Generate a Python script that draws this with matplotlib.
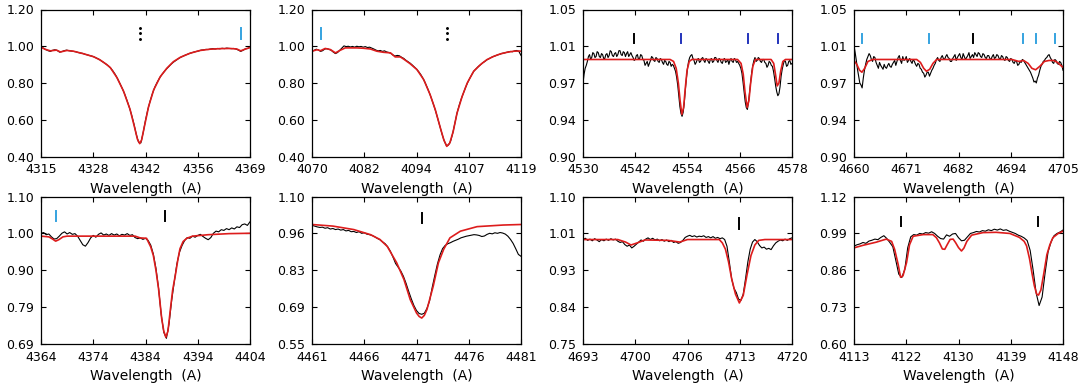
import matplotlib
matplotlib.use("Agg")
import matplotlib.pyplot as plt
import numpy as np

# ---- panel 1 : H gamma ----
p1_xlim = (4315, 4369)
p1_ylim = (0.40, 1.20)
p1_xticklabels = ["4315", "4328", "4342", "4356", "4369"]
p1_yticklabels = ["0.40", "0.60", "0.80", "1.00", "1.20"]
p1_obs_step = 0.6
p1_obs = [
    0.996, 0.990, 0.982, 0.976, 0.972, 0.978, 0.981, 0.977, 0.968, 0.971,
    0.976, 0.979, 0.976, 0.974, 0.972, 0.970, 0.966, 0.963, 0.961, 0.956,
    0.953, 0.949, 0.946, 0.941, 0.935, 0.929, 0.920, 0.912, 0.903, 0.893,
    0.881, 0.865, 0.846, 0.823, 0.797, 0.770, 0.741, 0.706, 0.669, 0.627,
    0.578, 0.522, 0.478, 0.474, 0.530, 0.597, 0.655, 0.702, 0.743, 0.777,
    0.803, 0.826, 0.845, 0.861, 0.876, 0.889, 0.902, 0.913, 0.922, 0.931,
    0.939, 0.945, 0.951, 0.956, 0.961, 0.965, 0.969, 0.972, 0.975, 0.979,
    0.980, 0.983, 0.982, 0.985, 0.987, 0.985, 0.988, 0.986, 0.989, 0.987,
    0.990, 0.988, 0.987, 0.988, 0.985, 0.979, 0.972, 0.978, 0.986, 0.988,
    0.995,
]
p1_model_wave = [
    4315.0, 4316.0, 4317.4, 4319.0, 4320.0, 4321.7, 4323.4, 4326.0, 4328.6, 4330.3,
    4332.0, 4332.9, 4334.6, 4336.3, 4338.0, 4339.3, 4339.9, 4340.5, 4341.0, 4341.7,
    4342.8, 4344.1, 4345.8, 4347.5, 4349.2, 4351.0, 4353.5, 4356.1, 4358.7, 4361.3,
    4363.8, 4365.6, 4366.6, 4367.7, 4369.0,
]
p1_model = [
    0.995, 0.984, 0.975, 0.979, 0.969, 0.977, 0.973, 0.959, 0.943, 0.925,
    0.900, 0.884, 0.830, 0.757, 0.657, 0.548, 0.495, 0.470, 0.490, 0.562,
    0.672, 0.762, 0.834, 0.880, 0.916, 0.940, 0.962, 0.977, 0.984, 0.987,
    0.988, 0.985, 0.975, 0.984, 0.993,
]
p1_marks = [4340.5, 4366.7]
p1_mark_kinds = ["dot", "light"]
p1_mark_y = (1.04, 1.10)

# ---- panel 2 : H delta ----
p2_xlim = (4070, 4119)
p2_ylim = (0.40, 1.20)
p2_xticklabels = ["4070", "4082", "4094", "4107", "4119"]
p2_yticklabels = ["0.40", "0.60", "0.80", "1.00", "1.20"]
p2_obs_step = 0.5
p2_obs = [
    0.972, 0.978, 0.984, 0.980, 0.972, 0.976, 0.985, 0.987, 0.983, 0.978,
    0.968, 0.960, 0.966, 0.978, 0.990, 1.002, 0.998, 1.000, 0.996, 0.999,
    0.995, 1.000, 0.997, 0.999, 0.995, 0.998, 0.993, 0.995, 0.990, 0.985,
    0.979, 0.975, 0.977, 0.972, 0.975, 0.969, 0.966, 0.961, 0.952, 0.947,
    0.950, 0.948, 0.940, 0.934, 0.924, 0.916, 0.908, 0.898, 0.887, 0.876,
    0.862, 0.846, 0.826, 0.803, 0.776, 0.748, 0.716, 0.682, 0.646, 0.605,
    0.563, 0.521, 0.485, 0.460, 0.462, 0.484, 0.527, 0.581, 0.636, 0.678,
    0.714, 0.745, 0.776, 0.803, 0.826, 0.847, 0.866, 0.878, 0.890, 0.899,
    0.910, 0.917, 0.926, 0.932, 0.939, 0.944, 0.948, 0.953, 0.956, 0.961,
    0.963, 0.966, 0.969, 0.972, 0.970, 0.975, 0.977, 0.972, 0.950,
]
p2_model_wave = [
    4070.0, 4071.2, 4072.0, 4073.1, 4074.3, 4075.5, 4076.6, 4077.8, 4079.0, 4080.5,
    4082.1, 4083.7, 4085.2, 4086.8, 4088.4, 4089.5, 4090.7, 4091.5, 4093.0, 4094.6,
    4096.2, 4097.7, 4098.9, 4100.1, 4100.9, 4101.6, 4102.3, 4103.1, 4104.0, 4105.2,
    4106.4, 4107.9, 4109.5, 4111.0, 4112.6, 4114.1, 4115.7, 4117.3, 4118.5, 4119.0,
]
p2_model = [
    0.973, 0.981, 0.976, 0.988, 0.982, 0.964, 0.978, 0.991, 0.991, 0.991,
    0.989, 0.985, 0.973, 0.967, 0.964, 0.942, 0.942, 0.930, 0.905, 0.873,
    0.818, 0.736, 0.655, 0.555, 0.491, 0.455, 0.473, 0.536, 0.636, 0.727,
    0.800, 0.864, 0.900, 0.927, 0.945, 0.958, 0.967, 0.973, 0.974, 0.973,
]
p2_marks = [4072.1, 4101.6]
p2_mark_kinds = ["light", "dot"]
p2_mark_y = (1.04, 1.10)

# ---- panel 3 : Si III ----
p3_xlim = (4530, 4578)
p3_ylim = (0.90, 1.05)
p3_xticklabels = ["4530", "4542", "4554", "4566", "4578"]
p3_yticklabels = ["0.90", "0.94", "0.97", "1.01", "1.05"]
p3_obs_step = 0.25
p3_obs = [
    0.975, 0.984, 0.990, 0.993, 0.997, 1.002, 1.004, 0.999, 1.001, 1.006,
    1.005, 1.001, 1.002, 1.007, 1.006, 1.002, 1.001, 1.005, 1.004, 1.000,
    1.000, 1.004, 1.005, 1.001, 1.003, 1.008, 1.007, 1.003, 1.002, 1.005,
    1.006, 1.002, 1.004, 1.008, 1.008, 1.004, 1.003, 1.007, 1.006, 1.002,
    1.005, 1.007, 1.002, 1.004, 1.006, 1.003, 1.001, 0.998, 0.999, 1.003,
    1.004, 0.999, 1.000, 1.004, 1.003, 0.999, 0.998, 0.993, 0.995, 0.997,
    0.992, 0.995, 0.998, 1.002, 1.001, 0.998, 0.997, 1.001, 1.000, 0.997,
    0.996, 1.000, 0.999, 0.996, 0.994, 0.998, 0.997, 0.994, 0.993, 0.997,
    0.996, 0.992, 0.994, 0.993, 0.990, 0.987, 0.981, 0.973, 0.962, 0.951,
    0.944, 0.941, 0.945, 0.954, 0.968, 0.980, 0.990, 0.997, 1.001, 1.003,
    1.004, 1.000, 0.998, 0.994, 0.996, 0.999, 1.000, 0.996, 0.997, 1.000,
    1.001, 0.998, 0.996, 1.000, 0.999, 0.997, 0.995, 0.999, 1.000, 0.996,
    0.997, 1.001, 1.001, 0.998, 0.996, 1.000, 0.999, 0.996, 0.995, 0.999,
    1.000, 0.996, 0.997, 0.999, 0.994, 0.998, 1.000, 0.997, 0.996, 1.000,
    0.999, 0.996, 0.997, 0.995, 0.993, 0.990, 0.985, 0.976, 0.966, 0.956,
    0.950, 0.948, 0.955, 0.965, 0.976, 0.986, 0.993, 0.998, 1.001, 0.997,
    0.998, 1.001, 1.000, 0.997, 0.996, 0.999, 0.999, 0.996, 0.995, 0.991,
    0.993, 0.997, 0.996, 0.993, 0.992, 0.987, 0.980, 0.972, 0.966, 0.962,
    0.964, 0.971, 0.982, 0.989, 0.994, 0.998, 0.997, 0.992, 0.993, 0.997,
    0.998, 0.994, 0.995,
]
p3_model_wave = [
    4530.0, 4550.0, 4550.8, 4551.4, 4551.9, 4552.3, 4552.7, 4553.1, 4553.5, 4553.9,
    4554.4, 4555.0, 4565.5, 4566.3, 4566.8, 4567.2, 4567.7, 4568.1, 4568.5, 4569.0,
    4569.6, 4573.2, 4573.8, 4574.2, 4574.6, 4575.0, 4575.4, 4575.9, 4576.5, 4578.0,
]
p3_model = [
    0.999, 0.999, 0.997, 0.990, 0.975, 0.957, 0.943, 0.950, 0.970, 0.988,
    0.997, 0.999, 0.999, 0.995, 0.984, 0.966, 0.950, 0.957, 0.975, 0.992,
    0.999, 0.999, 0.995, 0.984, 0.972, 0.975, 0.987, 0.997, 0.999, 0.999,
]
p3_marks = [4541.6, 4552.6, 4567.9, 4574.8]
p3_mark_kinds = ["black", "dark", "dark", "dark"]
p3_mark_y = (1.016, 1.025)

# ---- panel 4 : He II 4686 region ----
p4_xlim = (4660, 4705)
p4_ylim = (0.90, 1.05)
p4_xticklabels = ["4660", "4671", "4682", "4694", "4705"]
p4_yticklabels = ["0.90", "0.94", "0.97", "1.01", "1.05"]
p4_obs_step = 0.25
p4_obs = [
    1.013, 1.006, 0.998, 0.989, 0.982, 0.975, 0.973, 0.970, 0.980, 0.988,
    0.994, 0.999, 1.002, 1.005, 1.003, 0.999, 0.997, 1.002, 1.001, 0.996,
    0.993, 0.990, 0.996, 0.993, 0.991, 0.989, 0.994, 0.991, 0.990, 0.993,
    0.995, 0.992, 0.991, 0.994, 0.996, 0.998, 0.993, 0.997, 1.001, 1.003,
    0.998, 0.995, 1.002, 0.998, 0.999, 1.002, 0.996, 0.998, 1.000, 0.997,
    0.995, 0.999, 0.997, 0.994, 0.992, 0.995, 0.994, 0.990, 0.989, 0.986,
    0.985, 0.981, 0.983, 0.986, 0.986, 0.982, 0.985, 0.988, 0.990, 0.993,
    0.995, 0.999, 1.001, 0.998, 0.997, 1.001, 1.003, 1.000, 0.999, 1.002,
    1.004, 1.001, 1.000, 0.997, 0.997, 1.000, 1.002, 1.004, 0.998, 1.001,
    1.003, 1.005, 1.001, 0.999, 1.005, 1.002, 0.999, 1.001, 1.003, 1.006,
    1.000, 1.002, 1.004, 1.001, 1.006, 1.004, 1.002, 1.006, 1.005, 1.002,
    1.001, 1.005, 1.004, 1.001, 1.000, 1.003, 1.003, 1.000, 0.999, 1.002,
    1.004, 1.000, 1.001, 1.004, 1.003, 1.000, 0.999, 1.003, 1.002, 0.999,
    0.998, 1.002, 1.001, 0.998, 0.997, 1.000, 0.999, 0.996, 0.995, 0.998,
    0.997, 0.993, 0.994, 0.997, 0.996, 0.999, 0.998, 0.996, 0.994, 0.992,
    0.990, 0.988, 0.986, 0.983, 0.980, 0.976, 0.977, 0.975, 0.980, 0.983,
    0.988, 0.992, 0.994, 0.997, 0.998, 1.000, 1.001, 1.003, 1.004, 1.001,
    0.999, 0.996, 0.995, 0.999, 0.998, 0.995, 0.994, 0.997, 0.996, 0.993,
    0.988,
]
p4_model_wave = [
    4660.0, 4660.6, 4661.2, 4661.7, 4662.3, 4663.0, 4664.0, 4673.5, 4674.3, 4675.0,
    4675.6, 4676.3, 4677.0, 4677.8, 4694.0, 4695.5, 4696.5, 4697.5, 4698.3, 4699.1,
    4700.0, 4701.0, 4702.0, 4703.0, 4703.8, 4704.5, 4705.0,
]
p4_model = [
    0.998, 0.994, 0.988, 0.986, 0.990, 0.997, 0.999, 0.999, 0.996, 0.990,
    0.987, 0.989, 0.995, 0.999, 0.999, 0.997, 0.998, 0.995, 0.990, 0.9885,
    0.992, 0.997, 0.998, 0.998, 0.996, 0.993, 0.991,
]
p4_marks = [4661.7, 4676.2, 4685.6, 4696.3, 4699.1, 4703.2]
p4_mark_kinds = ["light", "light", "black", "light", "light", "light"]
p4_mark_y = (1.016, 1.025)

# ---- panel 5 : He I 4388 ----
p5_xlim = (4364, 4404)
p5_ylim = (0.69, 1.10)
p5_xticklabels = ["4364", "4374", "4384", "4394", "4404"]
p5_yticklabels = ["0.69", "0.79", "0.90", "1.00", "1.10"]
p5_obs_step = 0.5
p5_obs = [
    0.998, 1.000, 0.994, 0.996, 0.988, 0.982, 0.983, 0.990, 0.998, 1.002,
    0.996, 1.000, 0.995, 0.997, 0.990, 0.978, 0.966, 0.962, 0.972, 0.985,
    0.992, 0.987, 0.995, 0.999, 0.993, 0.996, 0.992, 0.997, 0.993, 0.996,
    0.991, 0.995, 0.993, 0.997, 0.992, 0.994, 0.986, 0.983, 0.985, 0.981,
    0.984, 0.978, 0.965, 0.940, 0.900, 0.845, 0.772, 0.722, 0.705, 0.745,
    0.810, 0.862, 0.912, 0.945, 0.964, 0.978, 0.986, 0.984, 0.990, 0.987,
    0.992, 0.995, 0.989, 0.984, 0.980, 0.986, 0.998, 1.004, 1.002, 1.008,
    1.006, 1.011, 1.008, 1.013, 1.010, 1.016, 1.014, 1.022, 1.024, 1.020,
    1.030,
]
p5_model_wave = [
    4364.0, 4365.5, 4366.2, 4366.8, 4367.4, 4368.2, 4369.0, 4382.0, 4383.0, 4384.2,
    4385.0, 4385.5, 4386.0, 4386.5, 4387.1, 4387.5, 4387.9, 4388.3, 4388.7, 4389.2,
    4389.7, 4390.2, 4390.6, 4391.2, 4391.9, 4393.0, 4396.0, 4400.0, 4404.0,
]
p5_model = [
    0.990, 0.988, 0.982, 0.976, 0.980, 0.988, 0.990, 0.990, 0.985, 0.984,
    0.960, 0.936, 0.895, 0.843, 0.760, 0.725, 0.708, 0.725, 0.778, 0.840,
    0.880, 0.925, 0.955, 0.975, 0.984, 0.990, 0.994, 0.997, 0.998,
]
p5_marks = [4366.9, 4387.8]
p5_mark_kinds = ["light", "black"]
p5_mark_y = (1.032, 1.060)

# ---- panel 6 : He I 4471 ----
p6_xlim = (4461, 4481)
p6_ylim = (0.55, 1.10)
p6_xticklabels = ["4461", "4466", "4471", "4476", "4481"]
p6_yticklabels = ["0.55", "0.69", "0.83", "0.96", "1.10"]
p6_obs_step = 0.25
p6_obs = [
    0.993, 0.990, 0.987, 0.985, 0.986, 0.982, 0.984, 0.979, 0.981, 0.977,
    0.979, 0.975, 0.977, 0.972, 0.974, 0.969, 0.970, 0.966, 0.969, 0.963,
    0.965, 0.960, 0.958, 0.955, 0.950, 0.944, 0.939, 0.931, 0.924, 0.912,
    0.896, 0.874, 0.850, 0.836, 0.822, 0.802, 0.776, 0.746, 0.718, 0.693,
    0.674, 0.663, 0.660, 0.664, 0.682, 0.710, 0.760, 0.805, 0.848, 0.882,
    0.906, 0.918, 0.924, 0.928, 0.933, 0.937, 0.941, 0.946, 0.949, 0.952,
    0.954, 0.956, 0.958, 0.957, 0.955, 0.951, 0.953, 0.959, 0.963, 0.961,
    0.965, 0.963, 0.966, 0.964, 0.960, 0.952, 0.940, 0.925, 0.905, 0.884,
    0.877,
]
p6_model_wave = [
    4461.0, 4463.0, 4465.0, 4466.6, 4467.5, 4468.2, 4469.1, 4469.8, 4470.4, 4471.0,
    4471.25, 4471.5, 4471.75, 4472.0, 4472.6, 4473.1, 4473.6, 4474.2, 4475.2, 4476.8,
    4479.3, 4481.0,
]
p6_model = [
    0.996, 0.990, 0.977, 0.958, 0.940, 0.914, 0.853, 0.790, 0.715, 0.665,
    0.652, 0.646, 0.656, 0.678, 0.765, 0.853, 0.903, 0.946, 0.971, 0.988,
    0.994, 0.996,
]
p6_marks = [4471.5]
p6_mark_kinds = ["black"]
p6_mark_y = (1.00, 1.04)

# ---- panel 7 : He I 4713 ----
p7_xlim = (4693, 4720)
p7_ylim = (0.75, 1.10)
p7_xticklabels = ["4693", "4700", "4706", "4713", "4720"]
p7_yticklabels = ["0.75", "0.84", "0.93", "1.01", "1.10"]
p7_obs_step = 0.3
p7_obs = [
    0.998, 1.001, 0.996, 0.999, 0.995, 1.000, 0.997, 0.993, 0.998, 0.995,
    0.999, 0.996, 1.000, 0.997, 0.999, 0.994, 0.991, 0.993, 0.986, 0.982,
    0.985, 0.978, 0.982, 0.987, 0.992, 0.997, 0.994, 0.999, 1.002, 0.998,
    1.001, 0.997, 0.999, 0.995, 0.998, 0.994, 0.997, 0.993, 0.996, 0.991,
    0.993, 0.989, 0.991, 0.996, 1.003, 1.006, 1.008, 1.005, 1.007, 1.004,
    1.006, 1.005, 1.007, 1.003, 1.005, 1.002, 1.005, 1.001, 1.003, 1.000,
    1.002, 0.998, 0.982, 0.945, 0.905, 0.882, 0.872, 0.856, 0.853, 0.868,
    0.905, 0.945, 0.975, 0.992, 0.998, 0.993, 0.984, 0.978, 0.980, 0.975,
    0.977, 0.974, 0.983, 0.990, 0.994, 0.997, 0.995, 0.999, 0.996, 1.000,
    1.002,
]
p7_model_wave = [
    4693.0, 4697.5, 4698.5, 4699.2, 4700.0, 4701.0, 4704.0, 4705.5, 4706.5, 4710.6,
    4711.0, 4711.4, 4711.8, 4712.2, 4712.7, 4713.2, 4713.7, 4714.2, 4714.7, 4715.2,
    4715.7, 4716.5, 4720.0,
]
p7_model = [
    0.998, 0.998, 0.992, 0.985, 0.990, 0.997, 0.996, 0.992, 0.998, 0.998,
    0.990, 0.975, 0.945, 0.905, 0.868, 0.847, 0.865, 0.915, 0.960, 0.985,
    0.996, 0.998, 0.998,
]
p7_marks = [4713.2]
p7_mark_kinds = ["black"]
p7_mark_y = (1.024, 1.050)

# ---- panel 8 : Si II / He I 4121, 4144 ----
p8_xlim = (4113, 4148)
p8_ylim = (0.60, 1.12)
p8_xticklabels = ["4113", "4122", "4130", "4139", "4148"]
p8_yticklabels = ["0.60", "0.73", "0.86", "0.99", "1.12"]
p8_obs_step = 0.5
p8_obs = [
    0.945, 0.950, 0.953, 0.958, 0.955, 0.963, 0.966, 0.970, 0.968, 0.976,
    0.982, 0.972, 0.958, 0.943, 0.895, 0.846, 0.834, 0.862, 0.940, 0.978,
    0.986, 0.984, 0.990, 0.988, 0.993, 0.991, 0.996, 0.990, 0.980, 0.972,
    0.970, 0.985, 0.980, 0.988, 0.990, 0.975, 0.964, 0.966, 0.978, 0.990,
    0.993, 0.997, 0.995, 1.000, 0.998, 1.003, 1.000, 1.005, 1.002, 1.006,
    1.001, 1.003, 0.998, 0.994, 0.990, 0.984, 0.980, 0.974, 0.965, 0.930,
    0.860, 0.780, 0.735, 0.765, 0.850, 0.925, 0.960, 0.982, 0.990, 0.995,
    1.002,
]
p8_model_wave = [
    4113.0, 4114.5, 4116.7, 4118.4, 4119.3, 4119.8, 4120.4, 4120.8, 4121.2, 4121.8,
    4122.3, 4122.9, 4124.6, 4126.2, 4126.8, 4127.3, 4127.8, 4128.2, 4128.6, 4129.1,
    4129.6, 4130.0, 4130.5, 4131.0, 4131.4, 4131.9, 4132.7, 4134.6, 4136.8, 4139.1,
    4140.7, 4141.5, 4141.9, 4142.4, 4142.8, 4143.2, 4143.6, 4143.9, 4144.3, 4144.8,
    4145.3, 4145.8, 4146.3, 4147.2, 4148.0,
]
p8_model = [
    0.939, 0.948, 0.959, 0.970, 0.962, 0.934, 0.880, 0.835, 0.840, 0.887,
    0.950, 0.980, 0.986, 0.986, 0.975, 0.957, 0.935, 0.934, 0.950, 0.969,
    0.970, 0.958, 0.940, 0.928, 0.938, 0.962, 0.984, 0.993, 0.994, 0.990,
    0.976, 0.962, 0.946, 0.900, 0.850, 0.805, 0.775, 0.772, 0.790, 0.850,
    0.915, 0.950, 0.975, 0.990, 0.998,
]
p8_marks = [4120.8, 4143.8]
p8_mark_kinds = ["black", "black"]
p8_mark_y = (1.016, 1.049)

panels = [
    (p1_xlim, p1_ylim, p1_xticklabels, p1_yticklabels, p1_obs_step, p1_obs,
     p1_model_wave, p1_model, p1_marks, p1_mark_kinds, p1_mark_y),
    (p2_xlim, p2_ylim, p2_xticklabels, p2_yticklabels, p2_obs_step, p2_obs,
     p2_model_wave, p2_model, p2_marks, p2_mark_kinds, p2_mark_y),
    (p3_xlim, p3_ylim, p3_xticklabels, p3_yticklabels, p3_obs_step, p3_obs,
     p3_model_wave, p3_model, p3_marks, p3_mark_kinds, p3_mark_y),
    (p4_xlim, p4_ylim, p4_xticklabels, p4_yticklabels, p4_obs_step, p4_obs,
     p4_model_wave, p4_model, p4_marks, p4_mark_kinds, p4_mark_y),
    (p5_xlim, p5_ylim, p5_xticklabels, p5_yticklabels, p5_obs_step, p5_obs,
     p5_model_wave, p5_model, p5_marks, p5_mark_kinds, p5_mark_y),
    (p6_xlim, p6_ylim, p6_xticklabels, p6_yticklabels, p6_obs_step, p6_obs,
     p6_model_wave, p6_model, p6_marks, p6_mark_kinds, p6_mark_y),
    (p7_xlim, p7_ylim, p7_xticklabels, p7_yticklabels, p7_obs_step, p7_obs,
     p7_model_wave, p7_model, p7_marks, p7_mark_kinds, p7_mark_y),
    (p8_xlim, p8_ylim, p8_xticklabels, p8_yticklabels, p8_obs_step, p8_obs,
     p8_model_wave, p8_model, p8_marks, p8_mark_kinds, p8_mark_y),
]

mark_colors = {"black": "black", "light": "#35a3e0", "dark": "#2233bb"}

plt.rcParams["font.family"] = "DejaVu Sans"

W, H = 1083, 392
fig = plt.figure(figsize=(W / 100, H / 100), dpi=100)

col_left = [41, 312, 583, 854]
row_top = [9.5, 196.7]
ax_w, ax_h = 209, 147

for i, (xlim, ylim, xtl, ytl, step, obs, mwave, model, marks, kinds, mark_y) in enumerate(panels):
    row, col = divmod(i, 4)
    left = col_left[col] / W
    bottom = 1 - (row_top[row] + ax_h) / H
    ax = fig.add_axes([left, bottom, ax_w / W, ax_h / H])

    obs_wave = xlim[0] + step * np.arange(len(obs))
    ax.plot(obs_wave, obs, color="black", lw=0.8)
    ax.plot(mwave, model, color="#dd1c1c", lw=1.2)

    for x, kind in zip(marks, kinds):
        if kind == "dot":
            ax.plot([x, x, x], np.linspace(mark_y[0], mark_y[1], 3), ".",
                    color="black", ms=2.2)
        else:
            ax.plot([x, x], mark_y, color=mark_colors[kind], lw=1.4)

    ax.set_xlim(xlim)
    ax.set_ylim(ylim)
    ax.set_xticks(np.linspace(xlim[0], xlim[1], 5))
    ax.set_xticklabels(xtl)
    ax.set_yticks(np.linspace(ylim[0], ylim[1], 5))
    ax.set_yticklabels(ytl)
    ax.tick_params(direction="in", top=True, right=True, length=3.5,
                   width=0.8, labelsize=9, pad=5)
    for sp in ax.spines.values():
        sp.set_linewidth(0.9)
    ax.set_xlabel("Wavelength  (A)", fontsize=10, labelpad=4)

fig.savefig("out.png", dpi=100)
